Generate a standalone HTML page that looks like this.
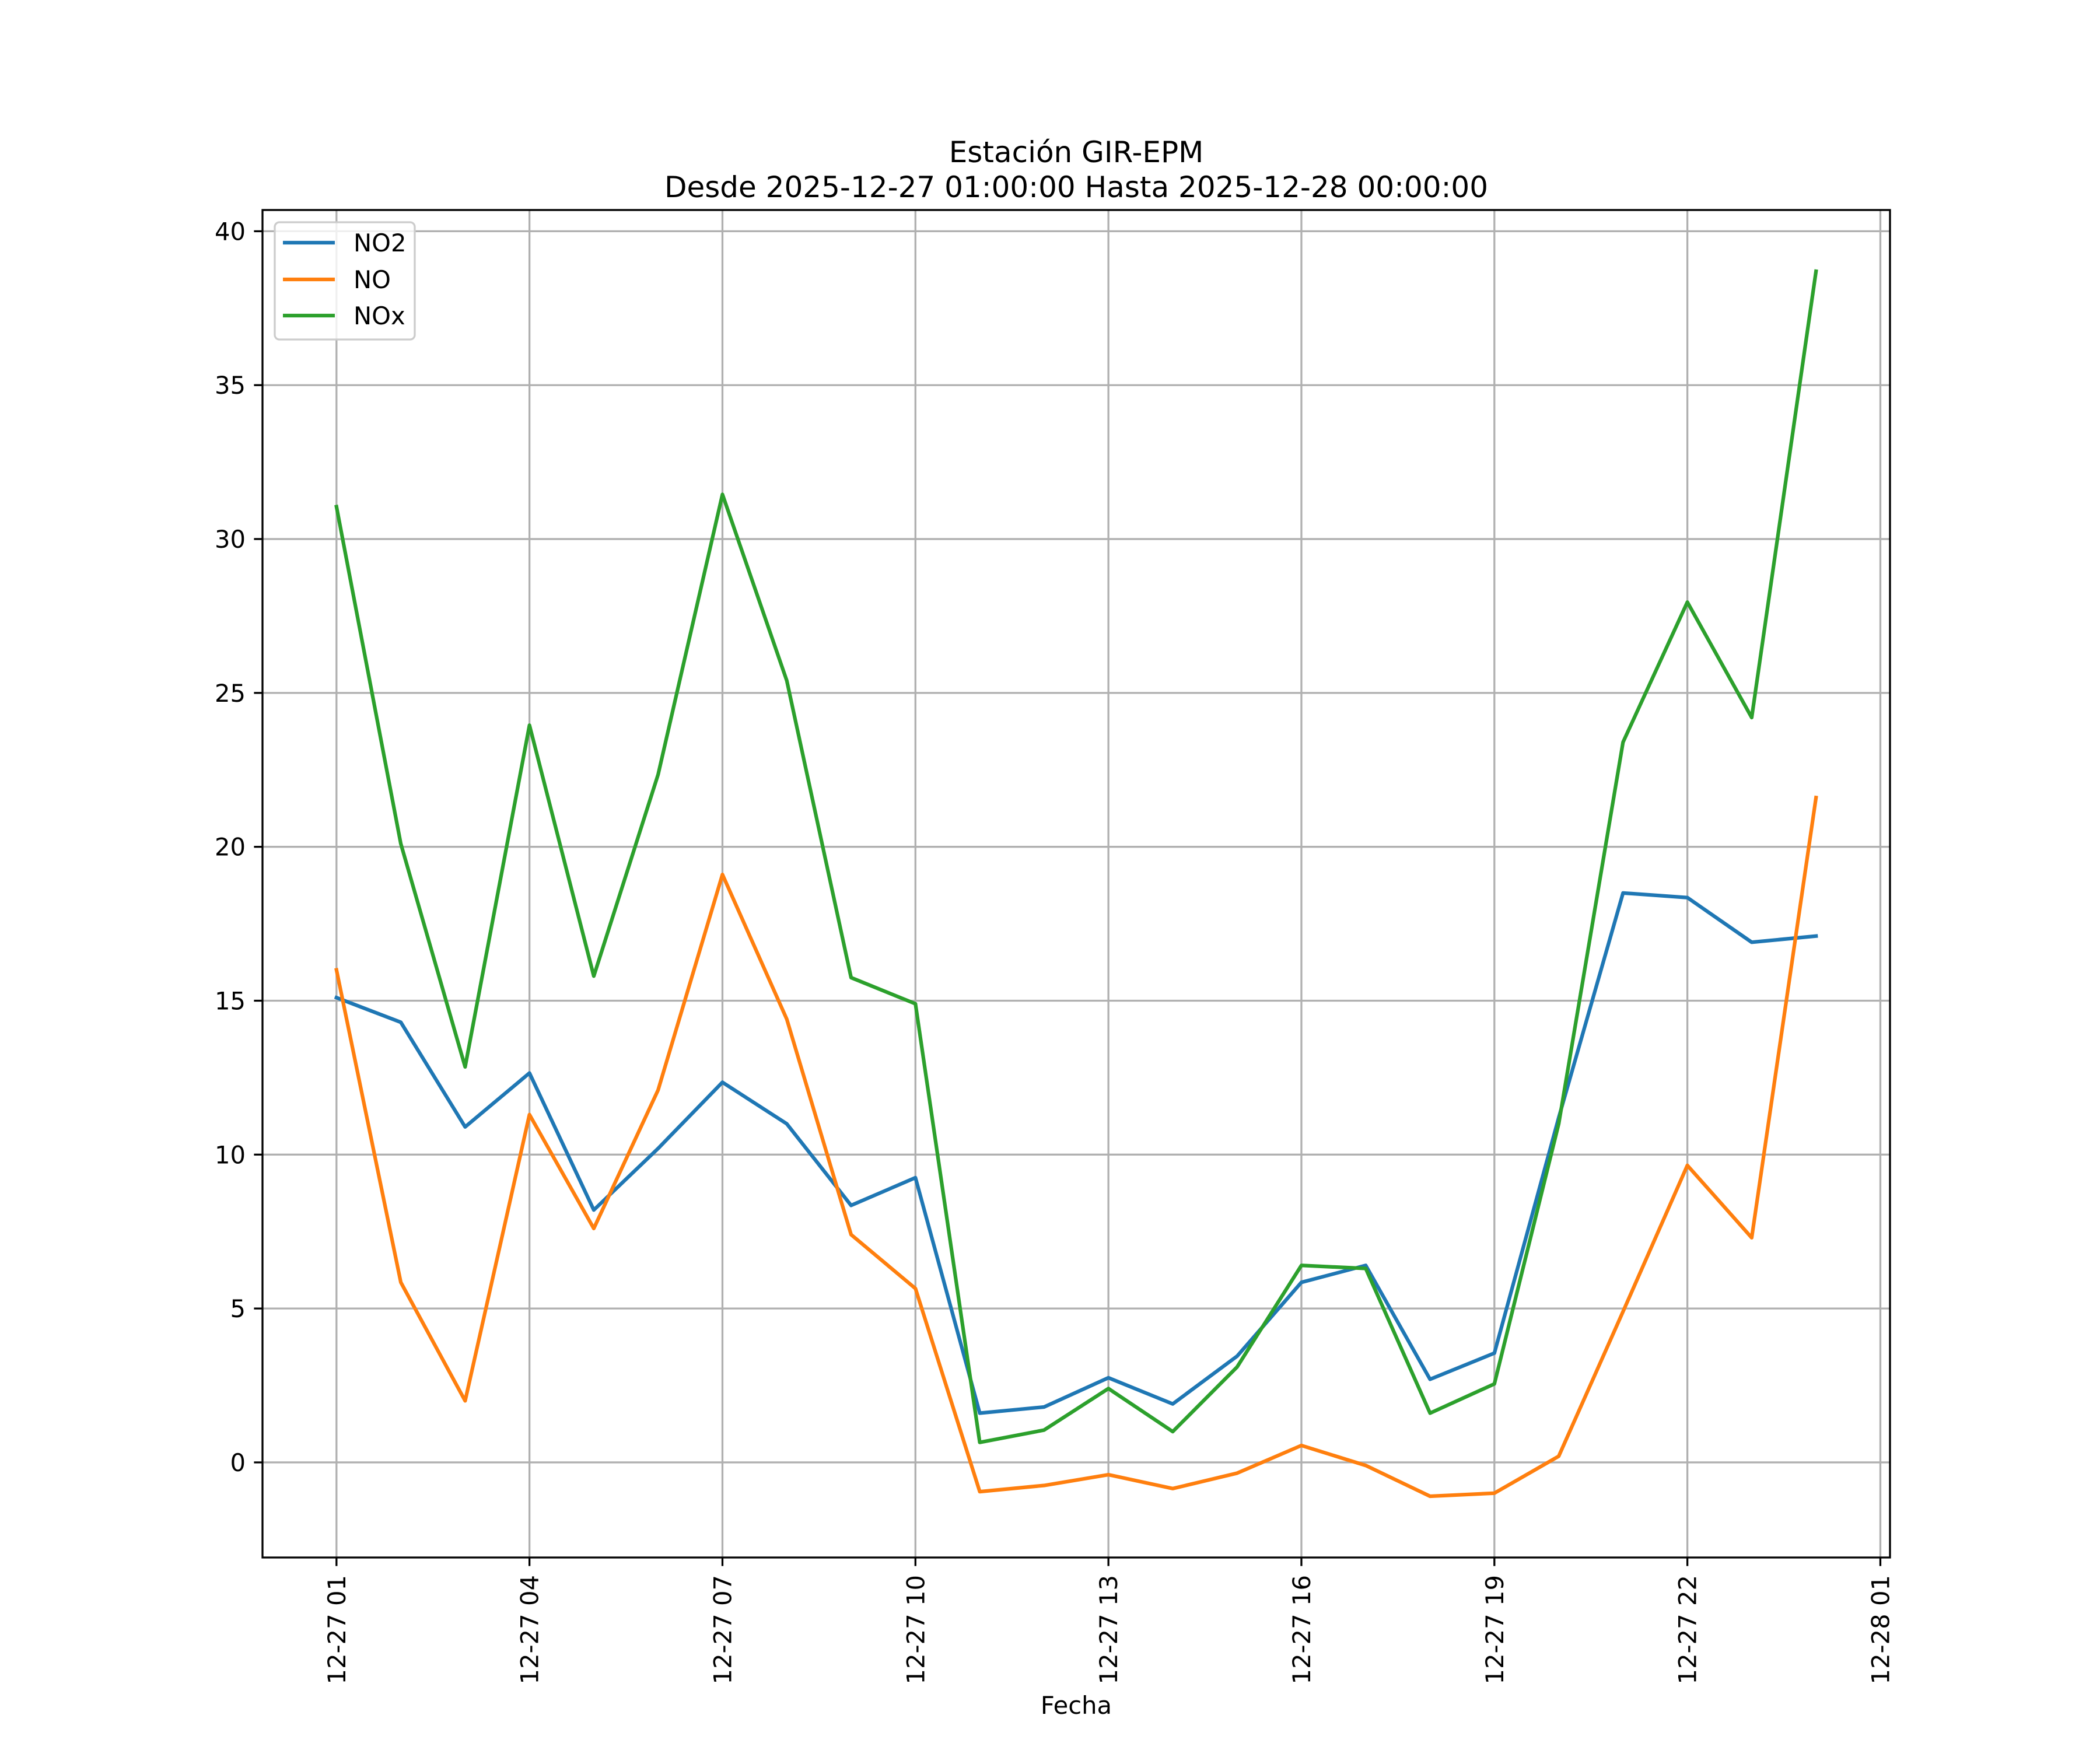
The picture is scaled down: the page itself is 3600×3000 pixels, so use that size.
<!DOCTYPE html>
<html><head><meta charset="utf-8"><style>
html,body{margin:0;padding:0;background:#fff}
svg{display:block;font-family:"DejaVu Sans","Liberation Sans",sans-serif}
</style></head><body>
<svg id="chart" width="3600" height="3000" viewBox="0 0 3600 3000" xmlns="http://www.w3.org/2000/svg">
<rect width="3600" height="3000" fill="#fff"/>
<g id="grid"></g>
<g id="series"></g>
<rect x="450" y="360" width="2790" height="2310" fill="none" stroke="#000" stroke-width="3.3"/>
<g id="ticks"></g>
<text x="1845" y="278" font-size="50" text-anchor="middle">Estación GIR-EPM</text>
<text x="1845" y="338" font-size="50" text-anchor="middle">Desde 2025-12-27 01:00:00 Hasta 2025-12-28 00:00:00</text>
<text x="1845" y="2938" font-size="41.7" text-anchor="middle">Fecha</text>
<g>
<rect x="471" y="381" width="240" height="201" rx="8" fill="#fff" fill-opacity="0.8" stroke="#ccc" stroke-width="3.3"/>
<line x1="485" y1="416" x2="574" y2="416" stroke="#1f77b4" stroke-width="6.25"/>
<text x="606" y="431" font-size="41.7">NO2</text>
<line x1="485" y1="479" x2="574" y2="479" stroke="#ff7f0e" stroke-width="6.25"/>
<text x="606" y="494" font-size="41.7">NO</text>
<line x1="485" y1="541" x2="574" y2="541" stroke="#2ca02c" stroke-width="6.25"/>
<text x="606" y="556" font-size="41.7">NOx</text>
</g>
</svg>
<script>
const hours = [0,1,2,3,4,5,6,7,8,9,10,11,12,13,14,15,16,17,18,19,20,21,22,23];
const no2 = [15.1,14.3,10.9,12.65,8.2,10.2,12.35,11.0,8.35,9.25,1.6,1.8,2.75,1.9,3.45,5.85,6.4,2.7,3.55,11.2,18.5,18.35,16.9,17.1];
const no = [16.0,5.85,2.0,11.3,7.6,12.1,19.1,14.4,7.4,5.65,-0.95,-0.75,-0.4,-0.85,-0.35,0.55,-0.1,-1.1,-1.0,0.2,4.9,9.65,7.3,21.6];
const nox = [31.05,20.1,12.85,23.95,15.8,22.35,31.45,25.4,15.75,14.9,0.65,1.05,2.4,1.0,3.1,6.4,6.3,1.6,2.55,11.0,23.4,27.95,24.2,38.7];
const xTicks = [0,3,6,9,12,15,18,21,24];
const xTickLabels = ["12-27 01","12-27 04","12-27 07","12-27 10","12-27 13","12-27 16","12-27 19","12-27 22","12-28 01"];
const yTicks = [0,5,10,15,20,25,30,35,40];

const NS="http://www.w3.org/2000/svg";
const L=450,R=3240,T=360,B=2670;
let all=no2.concat(no,nox);
let ymin=Math.min(...all),ymax=Math.max(...all),yr=ymax-ymin;
const y0=ymin-0.05*yr,y1=ymax+0.05*yr;
const x0=hours[0]-0.05*(hours[hours.length-1]-hours[0]),x1=hours[hours.length-1]+0.05*(hours[hours.length-1]-hours[0]);
const sx=v=>L+(v-x0)/(x1-x0)*(R-L);
const sy=v=>B-(v-y0)/(y1-y0)*(B-T);
function mk(tag,attrs,parent){const e=document.createElementNS(NS,tag);for(const k in attrs)e.setAttribute(k,attrs[k]);parent.appendChild(e);return e;}
const grid=document.getElementById('grid'),ticks=document.getElementById('ticks'),series=document.getElementById('series');
xTicks.forEach((t,i)=>{
  const x=sx(t);
  const g=mk('line',{x1:x,y1:T,x2:x,y2:B,stroke:'#b0b0b0','stroke-width':3.3},grid);
  
  
  const tk=mk('line',{x1:x,y1:B,x2:x,y2:B+14.6,stroke:'#000','stroke-width':3.3},ticks);
  
  
  const tx=mk('text',{x:0,y:0,'font-size':41.7,'text-anchor':'end',transform:`translate(${x+15},${B+30}) rotate(-90)`},ticks);
  tx.textContent=xTickLabels[i];
  
  
});
yTicks.forEach(t=>{
  const y=sy(t);
  const g=mk('line',{x1:L,y1:y,x2:R,y2:y,stroke:'#b0b0b0','stroke-width':3.3},grid);
  
  
  const tk=mk('line',{x1:L-14.6,y1:y,x2:L,y2:y,stroke:'#000','stroke-width':3.3},ticks);
  
  
  const tx=mk('text',{x:L-29,y:y+15,'font-size':41.7,'text-anchor':'end'},ticks);
  tx.textContent=String(t);
  
  
});
[[no2,'#1f77b4','no2-line'],[no,'#ff7f0e','no-line'],[nox,'#2ca02c','nox-line']].forEach(([d,c,n])=>{
  const p=mk('polyline',{points:d.map((v,i)=>sx(hours[i])+','+sy(v)).join(' '),fill:'none',stroke:c,'stroke-width':6.25,'stroke-linejoin':'round','stroke-linecap':'square'},series);
  
  
});
</script>
</body></html>
